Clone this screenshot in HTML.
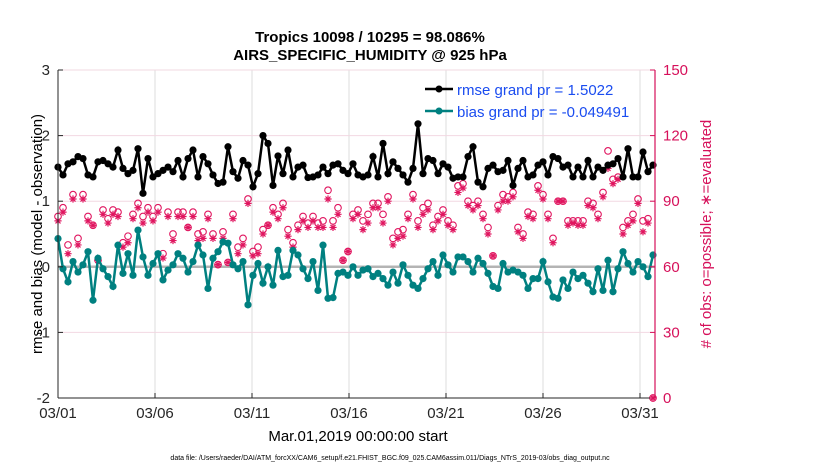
<!DOCTYPE html>
<html><head><meta charset="utf-8">
<style>
body{margin:0;background:#fff;width:830px;height:470px;overflow:hidden;font-family:"Liberation Sans",sans-serif}
svg text{font-family:"Liberation Sans",sans-serif}
</style></head>
<body>
<svg id="chart" width="830" height="470" xmlns="http://www.w3.org/2000/svg">
<g id="grid"></g>
<g id="marks"></g>
<g id="axes"></g>
<text x="370" y="42" text-anchor="middle" font-size="15" font-weight="bold">Tropics 10098 / 10295 = 98.086%</text>
<text x="370" y="60" text-anchor="middle" font-size="15" font-weight="bold">AIRS_SPECIFIC_HUMIDITY @ 925 hPa</text>
<text x="358" y="441" text-anchor="middle" font-size="15">Mar.01,2019 00:00:00 start</text>
<text transform="translate(42,234) rotate(-90)" text-anchor="middle" font-size="15">rmse and bias (model - observation)</text>
<text transform="translate(711,234) rotate(-90)" text-anchor="middle" font-size="15" fill="#d6105a">
# of obs: o=possible; ∗=evaluated</text>
<text x="390" y="460" text-anchor="middle" font-size="7">data file: /Users/raeder/DAI/ATM_forcXX/CAM6_setup/f.e21.FHIST_BGC.f09_025.CAM6assim.011/Diags_NTrS_2019-03/obs_diag_output.nc</text>
<g>
<line x1="425" y1="89" x2="453" y2="89" stroke="#000" stroke-width="2.5"/><circle cx="439" cy="89" r="3.5" fill="#000"/>
<text x="457" y="95" font-size="15" fill="#1a4cf0">rmse grand pr = 1.5022</text>
<line x1="425" y1="111" x2="453" y2="111" stroke="#008080" stroke-width="2.5"/><circle cx="439" cy="111" r="3.5" fill="#008080"/>
<text x="457" y="117" font-size="15" fill="#1a4cf0">bias grand pr = -0.049491</text>
</g>
</svg>
<script>
const xTickLabels=["03/01","03/06","03/11","03/16","03/21","03/26","03/31"];
const xTickDays=[0,5,10,15,20,25,30];
const yTicks=[-2,-1,0,1,2,3];
const y2Ticks=[0,30,60,90,120,150];
const rmse=[1.52,1.40,1.57,1.60,1.68,1.65,1.40,1.37,1.60,1.62,1.57,1.52,1.78,1.50,1.42,1.47,1.80,1.12,1.65,1.37,
1.42,1.47,1.52,1.45,1.62,1.37,1.65,1.78,1.37,1.68,1.57,1.40,1.27,1.29,1.83,1.45,1.35,1.62,1.55,1.22,
1.42,2.0,1.88,1.24,1.69,1.42,1.78,1.37,1.52,1.55,1.36,1.37,1.40,1.52,1.42,1.55,1.57,1.47,1.42,1.57,
1.40,1.37,1.40,1.68,1.37,1.88,1.42,1.60,1.50,1.40,1.29,1.50,2.18,1.42,1.65,1.62,1.42,1.57,1.52,1.35,
1.37,1.37,1.68,1.83,1.29,1.22,1.50,1.55,1.45,1.47,1.62,1.24,1.50,1.62,1.37,1.40,1.55,1.60,1.40,1.68,
1.65,1.52,1.55,1.37,1.52,1.37,1.62,1.37,1.52,1.47,1.55,1.57,1.65,1.37,1.80,1.37,1.37,1.75,1.45,1.55];
const bias=[0.43,-0.03,-0.23,0.08,-0.08,0.03,0.23,-0.51,0.13,-0.03,-0.15,-0.30,0.33,-0.10,0.20,-0.13,0.56,0.15,-0.13,0.05,
0.20,-0.20,-0.05,0.03,0.20,0.13,-0.08,0.08,0.33,0.18,-0.33,0.13,0.23,0.38,0.36,0.03,-0.03,0.08,-0.58,-0.13,
0.05,-0.25,0,-0.28,0.25,-0.15,-0.13,0.25,0.18,-0.03,-0.18,0.08,-0.36,0.33,-0.48,-0.47,-0.10,-0.08,-0.13,0,
-0.13,-0.05,-0.03,-0.15,-0.10,-0.18,-0.28,-0.08,-0.25,0.03,-0.13,-0.28,-0.33,-0.18,-0.03,0.08,-0.13,0.18,0.03,-0.08,
0.15,0.15,0.08,-0.08,0.13,0.05,-0.10,-0.30,-0.33,0.05,-0.08,-0.05,-0.08,-0.13,-0.33,-0.18,-0.18,0.08,-0.23,-0.46,
-0.48,-0.20,-0.33,-0.08,-0.18,-0.13,-0.25,-0.38,-0.03,-0.36,0.10,-0.38,-0.03,0.23,0.05,-0.08,0.08,0,-0.15,0.18];
const possible=[83,87,70,93,73,93,83,79,63,86,82,86,85,71,74,84,89,83,87,83,
87,66,85,75,85,85,78,85,75,76,84,75,61,76,62,84,69,73,91,67,
69,77,79,87,84,89,77,71,79,83,80,83,80,81,95,81,87,63,67,84,
86,81,84,89,89,84,92,73,76,77,84,93,81,87,89,79,83,86,81,79,
97,98,90,88,90,84,78,65,88,93,92,94,78,75,85,84,97,93,84,73,
90,90,81,81,81,81,90,89,84,94,113,100,101,78,81,84,91,81,82,0];
const evaluated=[81,85,66,91,70,91,81,79,63,84,80,84,83,69,71,82,87,80,85,81,
85,64,83,72,83,83,78,83,72,73,82,73,61,73,62,82,66,70,89,65,
66,75,79,85,82,87,74,69,77,81,78,81,78,78,91,78,84,63,67,82,
84,77,80,87,87,80,90,70,73,74,82,91,78,84,86,77,81,84,79,77,
94,96,88,86,88,82,75,65,86,90,90,92,76,73,83,82,95,91,82,71,
90,90,79,80,79,79,88,87,82,92,105,98,100,75,79,81,89,76,80,0];

const X0=58,X1=655,Y0=70,Y1=398,DAYPX=19.4,XEND=653;
const xs=d=>X0+d*DAYPX;
const yL=v=>Y1-(v+2)/5*(Y1-Y0);
const yR=v=>Y1-v/150*(Y1-Y0);
const NS="http://www.w3.org/2000/svg";
function mk(tag,attrs,parent){const e=document.createElementNS(NS,tag);for(const k in attrs)e.setAttribute(k,attrs[k]);parent.appendChild(e);return e;}
const grid=document.getElementById('grid'),marks=document.getElementById('marks'),axes=document.getElementById('axes');
mk('rect',{x:X0,y:Y0,width:X1-X0,height:Y1-Y0,fill:'#fff'},grid);
xTickDays.forEach(d=>{const l=mk('line',{x1:xs(d),x2:xs(d),y1:Y0,y2:Y1,stroke:'#dcdcdc','stroke-width':1},grid);

});
yTicks.forEach(v=>{if(v===0)return;const l=mk('line',{x1:X0,x2:X1,y1:yL(v),y2:yL(v),stroke:'#f2d8e2','stroke-width':1},grid);

});
const zl=mk('line',{x1:X0,x2:X1,y1:yL(0),y2:yL(0),stroke:'#b4b4b4','stroke-width':2.5},grid);


const xi=(i,n)=>X0+i*(XEND-X0)/(n-1);
possible.forEach((v,i)=>{const c=mk('circle',{cx:xi(i,possible.length),cy:yR(v),r:3.3,fill:'none',stroke:'#e0155f','stroke-width':1.1},marks);

});
evaluated.forEach((v,i)=>{const x=xi(i,evaluated.length),y=yR(v),s=3.6;
const p=mk('path',{d:`M${x-s},${y}H${x+s}M${x},${y-s}V${y+s}M${x-s*0.7},${y-s*0.7}L${x+s*0.7},${y+s*0.7}M${x-s*0.7},${y+s*0.7}L${x+s*0.7},${y-s*0.7}`,stroke:'#e0155f','stroke-width':1.2,fill:'none'},marks);

});
function series(arr,col,name){
const p=mk('polyline',{points:arr.map((v,i)=>xi(i,arr.length)+','+yL(v)).join(' '),fill:'none',stroke:col,'stroke-width':2.5},marks);


arr.forEach((v,i)=>{const c=mk('circle',{cx:xi(i,arr.length),cy:yL(v),r:3.6,fill:col},marks);

});}
series(bias,'#008080','bias');
series(rmse,'#000000','rmse');
mk('line',{x1:X0,x2:X0,y1:Y0,y2:Y1,stroke:'#262626','stroke-width':1},axes);
mk('line',{x1:X0,x2:X1,y1:Y1,y2:Y1,stroke:'#262626','stroke-width':1},axes);
mk('line',{x1:X1,x2:X1,y1:Y0,y2:Y1,stroke:'#d6105a','stroke-width':1.2},axes);
yTicks.forEach(v=>{mk('line',{x1:X0,x2:X0+5,y1:yL(v),y2:yL(v),stroke:'#262626'},axes);
const t=mk('text',{x:X0-8,y:yL(v)+5,'text-anchor':'end','font-size':15,fill:'#262626'},axes);t.textContent=v;

});
y2Ticks.forEach(v=>{mk('line',{x1:X1-5,x2:X1,y1:yR(v),y2:yR(v),stroke:'#d6105a'},axes);
const t=mk('text',{x:X1+8,y:yR(v)+5,'font-size':15,fill:'#d6105a'},axes);t.textContent=v;

});
xTickDays.forEach((d,i)=>{mk('line',{x1:xs(d),x2:xs(d),y1:Y1,y2:Y1-5,stroke:'#262626'},axes);
const t=mk('text',{x:xs(d),y:Y1+20,'text-anchor':'middle','font-size':15,fill:'#262626'},axes);t.textContent=xTickLabels[i];

});
</script>
</body></html>
